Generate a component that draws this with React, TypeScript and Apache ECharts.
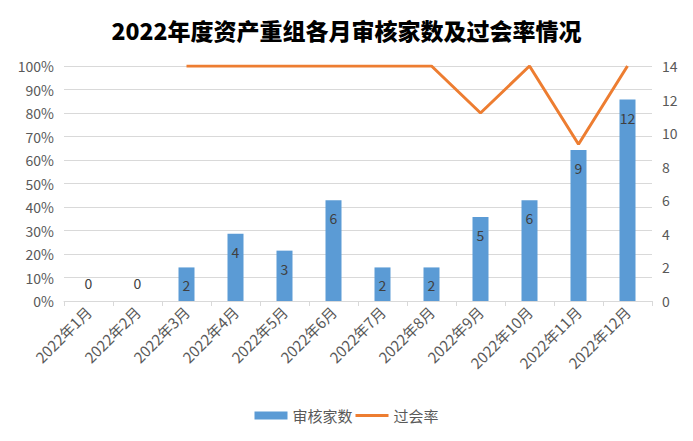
import React, { useEffect, useRef } from "react";
import * as echarts from "echarts";

const categories = ["2022年1月", "2022年2月", "2022年3月", "2022年4月", "2022年5月", "2022年6月", "2022年7月", "2022年8月", "2022年9月", "2022年10月", "2022年11月", "2022年12月"];
const reviewCounts = [0, 0, 2, 4, 3, 6, 2, 2, 5, 6, 9, 12];
const passRates = [null, null, 100, 100, 100, 100, 100, 100, 80, 100, 66.7, 100];
const leftTicks = { min: 0, max: 100, interval: 10 };
const rightTicks = { min: 0, max: 14, interval: 2 };

const FONT = "'Noto Sans CJK SC', 'Noto Sans', sans-serif";

export default function App() {
  const ref = useRef<HTMLDivElement>(null);
  useEffect(() => {
    if (!ref.current) return;
    const chart = echarts.init(ref.current, undefined, { renderer: "svg" });
    chart.setOption({
      animation: false,
      backgroundColor: "#fff",
      textStyle: { fontFamily: FONT },
      title: {
        text: "2022年度资产重组各月审核家数及过会率情况",
        left: "center",
        top: 13,
        textStyle: { fontSize: 23, fontWeight: 900, color: "#000", fontFamily: FONT },
      },
      graphic: [
        {
          type: "rect",
          shape: { x: 0.5, y: 0.5, width: 692, height: 440 },
          style: { fill: "none", stroke: "#d9d9d9", lineWidth: 1 },
          silent: true,
        },
      ],
      legend: {
        bottom: 13,
        left: "center",
        itemGap: 3,
        itemWidth: 33,
        itemHeight: 8,
        textStyle: { fontSize: 15, color: "#595959", fontFamily: FONT },
        data: [
          { name: "审核家数", icon: "rect" },
          { name: "过会率", icon: "path://M0,0h33v3h-33z", itemStyle: { color: "#ED7D31" } },
        ],
      },
      grid: { left: 64, right: 41, top: 66, bottom: 140 },
      xAxis: {
        type: "category",
        data: categories,
        boundaryGap: true,
        axisLine: { lineStyle: { color: "#d9d9d9" } },
        axisTick: { show: true, length: 5, lineStyle: { color: "#d9d9d9" } },
        axisLabel: { rotate: 45, fontSize: 15, color: "#595959", interval: 0, margin: 8 },
      },
      yAxis: [
        {
          type: "value",
          min: leftTicks.min,
          max: leftTicks.max,
          interval: leftTicks.interval,
          axisLine: { show: false },
          axisTick: { show: false },
          splitLine: { lineStyle: { color: "#d9d9d9" } },
          axisLabel: { formatter: "{value}%", fontSize: 14, color: "#595959", margin: 10 },
        },
        {
          type: "value",
          min: rightTicks.min,
          max: rightTicks.max,
          interval: rightTicks.interval,
          axisLine: { show: false },
          axisTick: { show: false },
          splitLine: { show: false },
          axisLabel: { fontSize: 14, color: "#595959", margin: 10 },
        },
      ],
      series: [
        {
          name: "审核家数",
          type: "bar",
          yAxisIndex: 1,
          barWidth: 16,
          itemStyle: { color: "#5B9BD5" },
          data: reviewCounts.map((v) => ({
            value: v,
            label: {
              show: true,
              position: v === 0 ? "insideBottom" : "insideTop",
              distance: 11,
              fontSize: 14,
              color: "#404040",
            },
          })),
        },
        {
          name: "过会率",
          type: "line",
          yAxisIndex: 0,
          symbol: "none",
          connectNulls: false,
          lineStyle: { color: "#ED7D31", width: 3 },
          itemStyle: { color: "#ED7D31" },
          data: passRates,
        },
      ],
    });
    return () => chart.dispose();
  }, []);
  return <div ref={ref} style={{ width: 693, height: 441, margin: -8 }} />;
}
